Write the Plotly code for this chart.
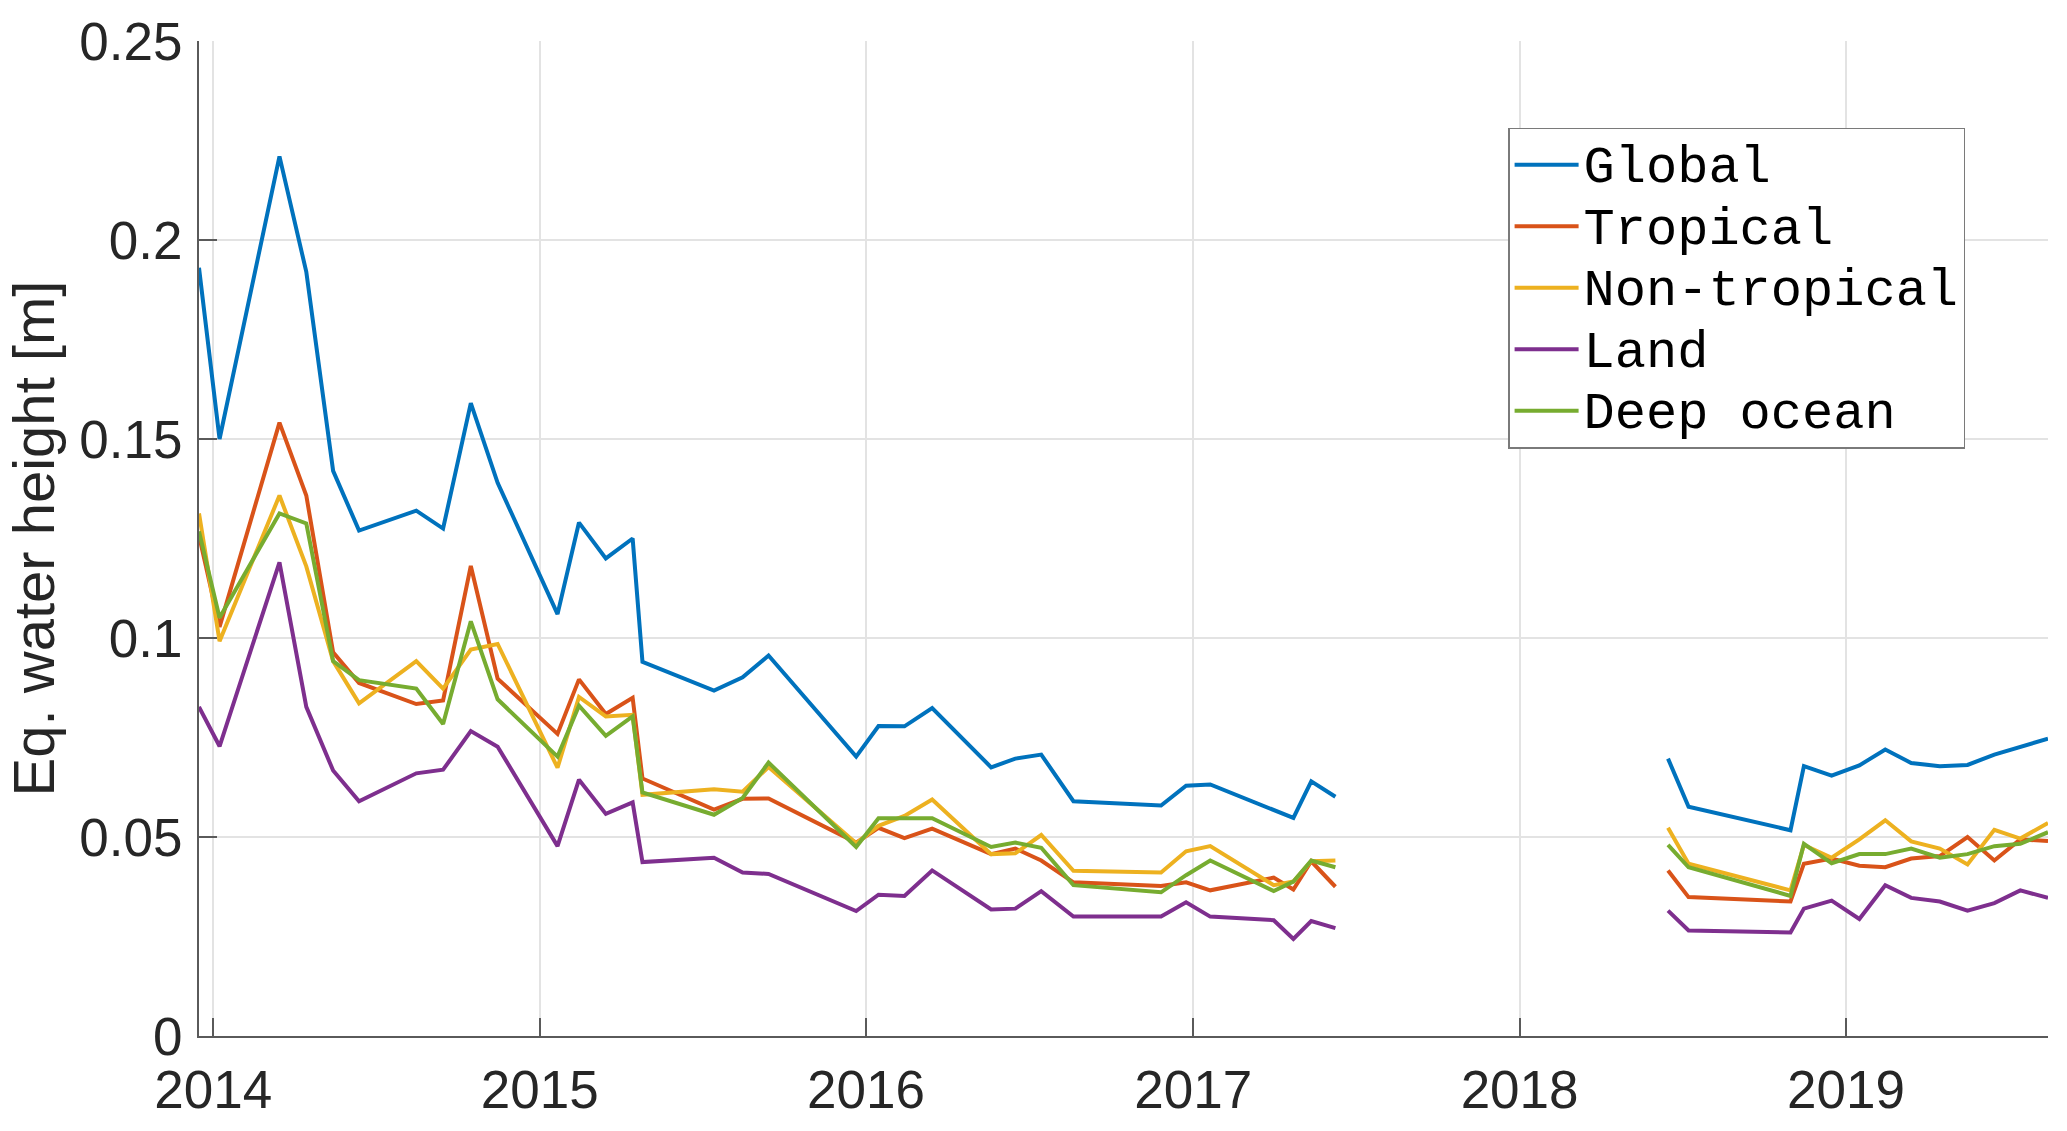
import plotly.graph_objects as go

# ---------------- data ----------------
dates_grace = [
    "2013-12-16", "2014-01-08", "2014-03-16", "2014-04-15", "2014-05-15",
    "2014-06-13", "2014-08-16", "2014-09-15", "2014-10-16", "2014-11-15",
    "2015-01-21", "2015-02-14", "2015-03-16", "2015-04-15", "2015-04-26",
    "2015-07-15", "2015-08-16", "2015-09-14", "2015-12-21", "2016-01-15",
    "2016-02-13", "2016-03-15", "2016-05-20", "2016-06-16", "2016-07-15",
    "2016-08-20", "2016-11-26", "2016-12-24", "2017-01-20", "2017-04-01",
    "2017-04-23", "2017-05-13", "2017-06-09",
]
dates_gracefo = [
    "2018-06-16", "2018-07-09", "2018-10-31", "2018-11-15", "2018-12-16",
    "2019-01-16", "2019-02-14", "2019-03-15", "2019-04-16", "2019-05-17",
    "2019-06-16", "2019-07-15", "2019-08-15",
]

global_a = [0.193, 0.150, 0.221, 0.192, 0.142, 0.127, 0.132, 0.1275, 0.159, 0.139,
            0.106, 0.129, 0.120, 0.125, 0.094, 0.0868, 0.0901, 0.0956, 0.0702, 0.0779,
            0.0778, 0.0824, 0.0675, 0.0697, 0.0707, 0.0590, 0.0579, 0.0629, 0.0632, 0.0569,
            0.0548, 0.0640, 0.0601]
global_b = [0.0697, 0.0576, 0.0517, 0.0678, 0.0654, 0.0680, 0.0720, 0.0686, 0.0678,
            0.0681, 0.0707, 0.0726, 0.0747]

tropical_a = [0.1257, 0.1028, 0.1541, 0.1358, 0.0964, 0.0887, 0.0834, 0.0843, 0.1181, 0.0898,
              0.0759, 0.0896, 0.0809, 0.0850, 0.0647, 0.0569, 0.0596, 0.0597, 0.0486, 0.0523,
              0.0497, 0.0521, 0.0457, 0.0471, 0.0441, 0.0386, 0.0377, 0.0386, 0.0366, 0.0398,
              0.0368, 0.0439, 0.0375]
tropical_b = [0.0416, 0.0349, 0.0338, 0.0433, 0.0446, 0.0428, 0.0424, 0.0446, 0.0452,
              0.0500, 0.0441, 0.0494, 0.0490]

nontropical_a = [0.1313, 0.0992, 0.1358, 0.118, 0.0942, 0.0836, 0.0942, 0.0873, 0.0971, 0.0985,
                 0.0674, 0.0852, 0.0803, 0.0807, 0.0606, 0.0620, 0.0614, 0.0676, 0.0484, 0.0528,
                 0.0553, 0.0594, 0.0457, 0.0459, 0.0505, 0.0415, 0.0411, 0.0464, 0.0477, 0.0379,
                 0.0388, 0.0439, 0.0441]
nontropical_b = [0.0523, 0.0433, 0.0366, 0.0480, 0.0448, 0.0494, 0.0542, 0.0489, 0.0471,
                 0.0431, 0.0518, 0.0496, 0.0535]

land_a = [0.0827, 0.0728, 0.1190, 0.0827, 0.0667, 0.0590, 0.0660, 0.0669, 0.0766, 0.0727,
          0.0477, 0.0644, 0.0558, 0.0587, 0.0437, 0.0448, 0.0411, 0.0407, 0.0314, 0.0355,
          0.0352, 0.0416, 0.0318, 0.0320, 0.0364, 0.0300, 0.0300, 0.0336, 0.0300, 0.0291,
          0.0244, 0.0289, 0.0271]
land_b = [0.0315, 0.0265, 0.0260, 0.0320, 0.0340, 0.0294, 0.0379, 0.0347, 0.0338,
          0.0315, 0.0334, 0.0366, 0.0347]

deep_a = [0.1268, 0.1051, 0.1313, 0.1288, 0.0942, 0.0894, 0.0873, 0.0784, 0.1042, 0.0846,
          0.0702, 0.0830, 0.0754, 0.0803, 0.0612, 0.0556, 0.0598, 0.0687, 0.0475, 0.0547,
          0.0547, 0.0547, 0.0475, 0.0486, 0.0473, 0.0379, 0.0361, 0.0404, 0.0441, 0.0364,
          0.0388, 0.0441, 0.0424]
deep_b = [0.0480, 0.0424, 0.0352, 0.0483, 0.0434, 0.0457, 0.0457, 0.0471, 0.0448,
          0.0457, 0.0477, 0.0483, 0.0512]

series_names = ["Global", "Tropical", "Non-tropical", "Land", "Deep ocean"]
series_a = [global_a, tropical_a, nontropical_a, land_a, deep_a]
series_b = [global_b, tropical_b, nontropical_b, land_b, deep_b]
colors = ["#0072BD", "#D95319", "#EDB120", "#7E2F8E", "#77AC30"]

year_ticks = ["2014-01-01", "2015-01-01", "2016-01-01", "2017-01-01", "2018-01-01", "2019-01-01"]
year_labels = ["2014", "2015", "2016", "2017", "2018", "2019"]
y_ticks = [0, 0.05, 0.1, 0.15, 0.2, 0.25]
y_labels = ["0", "0.05", "0.1", "0.15", "0.2", "0.25"]

# ---------------- figure ----------------
fig = go.Figure()
x_all = dates_grace + [None] + dates_gracefo
for name, a, b, c in zip(series_names, series_a, series_b, colors):
    fig.add_trace(go.Scatter(
        x=x_all, y=a + [None] + b, mode="lines",
        name='<span style="font-size:52px">' + name + "</span>",
        line=dict(color=c, width=4), connectgaps=False,
    ))

axis_col = "#262626"
line_col = "#5a5a5a"
grid_col = "#e3e3e3"
fig.update_layout(
    width=2067, height=1131,
    margin=dict(l=199, r=19, t=35, b=85),
    paper_bgcolor="white", plot_bgcolor="white",
    font=dict(family="Liberation Sans, Arial, sans-serif", color=axis_col, size=53),
    showlegend=True,
    legend=dict(
        x=0.708, y=0.913, xanchor="left", yanchor="top",
        bgcolor="white", bordercolor="#7a7a7a", borderwidth=1.5,
        font=dict(family="Liberation Mono, DejaVu Sans Mono, monospace", size=45, color="black"),
        tracegroupgap=0, itemwidth=64,
    ),
    xaxis=dict(
        type="date", range=[dates_grace[0], dates_gracefo[-1]],
        tickvals=year_ticks, ticktext=year_labels,
        ticks="inside", ticklen=18, tickwidth=1.5, tickcolor=line_col,
        showgrid=True, gridcolor=grid_col, gridwidth=1.5,
        showline=True, linecolor=line_col, linewidth=2, mirror=False,
        zeroline=False, tickfont=dict(size=53, color=axis_col),
        ticklabelstandoff=6,
    ),
    yaxis=dict(
        range=[0, 0.25], tickvals=y_ticks, ticktext=y_labels,
        ticks="inside", ticklen=18, tickwidth=1.5, tickcolor=line_col,
        showgrid=True, gridcolor=grid_col, gridwidth=1.5,
        showline=True, linecolor=line_col, linewidth=2, mirror=False,
        zeroline=False, tickfont=dict(size=53, color=axis_col),
        ticklabelstandoff=4,
        title=dict(text="Eq. water height [m]", font=dict(size=58, color=axis_col), standoff=6),
    ),
)

fig.write_html(
    "out.html",
    config={"displayModeBar": False},
    post_script="document.body.style.margin='0';document.body.style.overflow='hidden';",
)
